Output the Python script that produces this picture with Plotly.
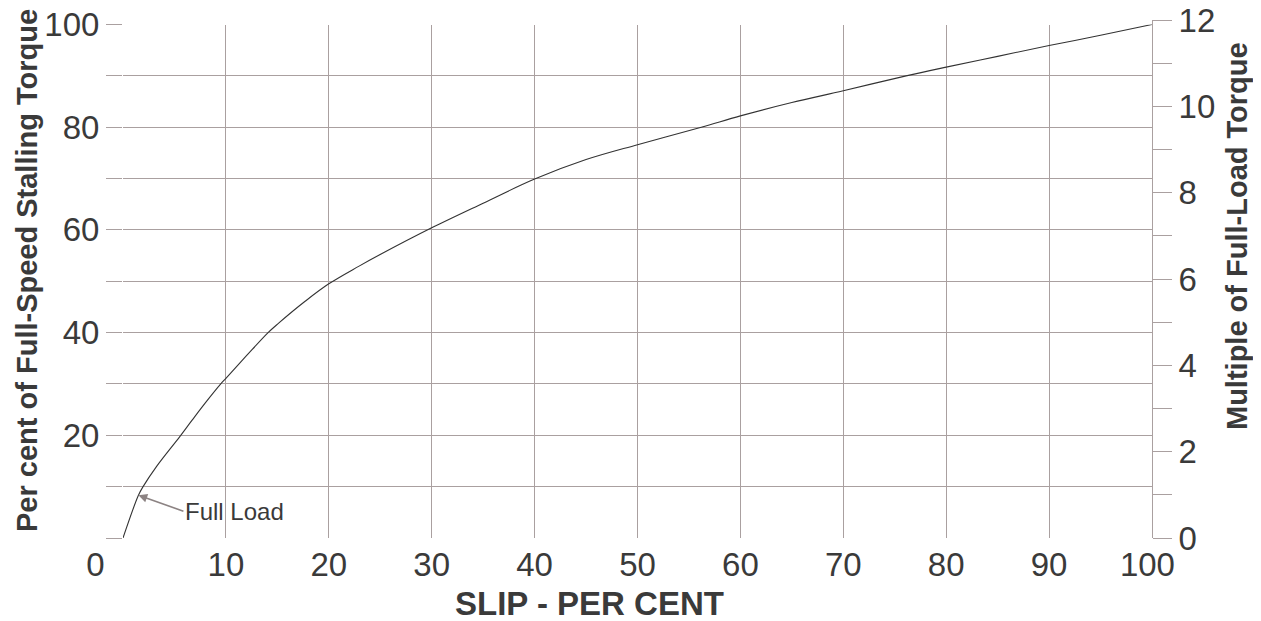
import plotly.graph_objects as go

# ---- data ----
slip = [0, 1.5, 1.95, 3.25, 5.5, 6.7, 8.0, 9.5, 10, 12, 14.1, 15.1, 17.7, 20,
        22.9, 24.9, 30, 35, 40, 45, 50, 56.2, 60, 65, 70, 76.1, 80, 85, 90, 95, 100]
torque_pct = [0, 8.33, 10, 13.9, 19.7, 22.9, 26.3, 30, 31.1, 35.5, 40, 41.8,
              46.1, 49.5, 52.9, 55.1, 60.4, 65.2, 69.9, 73.7, 76.6, 80, 82.2,
              84.8, 87.1, 90, 91.7, 93.8, 95.9, 97.9, 100]
multiple = [v * 12 / 100 for v in torque_pct]

x_ticks = list(range(0, 101, 10))
x_ticktext = ["0" + "\u00a0" * 6] + [str(v) for v in range(10, 100, 10)] + ["100\u00a0"]
y_ticks = list(range(0, 101, 10))
y_ticktext = [str(v) if v % 20 == 0 and v > 0 else "" for v in y_ticks]
y2_ticks = list(range(0, 13))
y2_ticktext = [str(v) if v % 2 == 0 else "" for v in y2_ticks]

full_load_slip = 1.5
full_load_pct = 8.33

GRID = "#aaa0a0"
TXT = "#3a3a3a"
FONT = "Liberation Sans, Arial, sans-serif"

fig = go.Figure()
fig.add_trace(go.Scatter(x=slip, y=torque_pct, mode="lines",
                         line=dict(color="#333333", width=1.1, shape="spline", smoothing=1.0),
                         hoverinfo="x+y", showlegend=False))
fig.add_trace(go.Scatter(x=slip, y=multiple, mode="lines", xaxis="x2", yaxis="y2",
                         line=dict(color="rgba(0,0,0,0)", width=0),
                         hoverinfo="skip", showlegend=False))

fig.update_layout(
    width=1261, height=621,
    margin=dict(l=115, r=117, t=12, b=91),
    paper_bgcolor="white", plot_bgcolor="rgba(0,0,0,0)",
    font=dict(family=FONT, color=TXT),
    xaxis=dict(range=[0, 100], domain=[0, 1], anchor="y", automargin=False,
               tickmode="array", tickvals=x_ticks, ticktext=x_ticktext,
               ticks="", showgrid=True, gridcolor=GRID, gridwidth=1,
               zeroline=False, showline=False, ticklabeloverflow="allow",
               tickfont=dict(size=33, color=TXT), ticklabelstandoff=4),
    yaxis=dict(range=[0, 100], domain=[0, 0.99131], anchor="x", automargin=False,
               tickmode="array", tickvals=y_ticks, ticktext=y_ticktext,
               ticks="outside", ticklen=16, tickcolor=GRID, tickwidth=1,
               showgrid=True, gridcolor=GRID, gridwidth=1,
               zeroline=False, showline=False, ticklabeloverflow="allow",
               tickfont=dict(size=33, color=TXT)),
    xaxis2=dict(range=[0, 100], domain=[0, 1], anchor="y2", visible=False,
                automargin=False),
    yaxis2=dict(range=[0, 12], domain=[0, 1], anchor="x2", side="right",
                automargin=False, ticklabeloverflow="allow",
                tickmode="array", tickvals=y2_ticks, ticktext=y2_ticktext,
                ticks="outside", ticklen=19, tickcolor=GRID, tickwidth=1,
                showline=True, linecolor=GRID, linewidth=1,
                showgrid=False, zeroline=False,
                tickfont=dict(size=33, color=TXT)),
)

fig.add_annotation(xref="paper", yref="paper", x=0.4529, y=-0.1255,
                   text="<b>SLIP - PER CENT</b>", showarrow=False,
                   xanchor="center", yanchor="middle",
                   font=dict(size=33, color=TXT, family=FONT))
fig.add_annotation(xref="paper", yref="paper", x=-0.0933, y=0.5174,
                   text="<b>Per cent of Full-Speed Stalling Torque</b>", showarrow=False,
                   textangle=-90, xanchor="center", yanchor="middle",
                   font=dict(size=29, color=TXT, family=FONT))
fig.add_annotation(xref="paper", yref="paper", x=1.0826, y=0.583,
                   text="<b>Multiple of Full-Load Torque</b>", showarrow=False,
                   textangle=-90, xanchor="center", yanchor="middle",
                   font=dict(size=29, color=TXT, family=FONT))
fig.add_annotation(xref="x", yref="y", x=full_load_slip, y=full_load_pct,
                   text="Full Load", showarrow=True, arrowhead=2, arrowsize=1.1,
                   arrowwidth=1.6, arrowcolor="#8c8383",
                   ax=45, ay=16, xanchor="left", yanchor="middle",
                   font=dict(size=24, color=TXT, family=FONT))

fig.write_html("out.html")
